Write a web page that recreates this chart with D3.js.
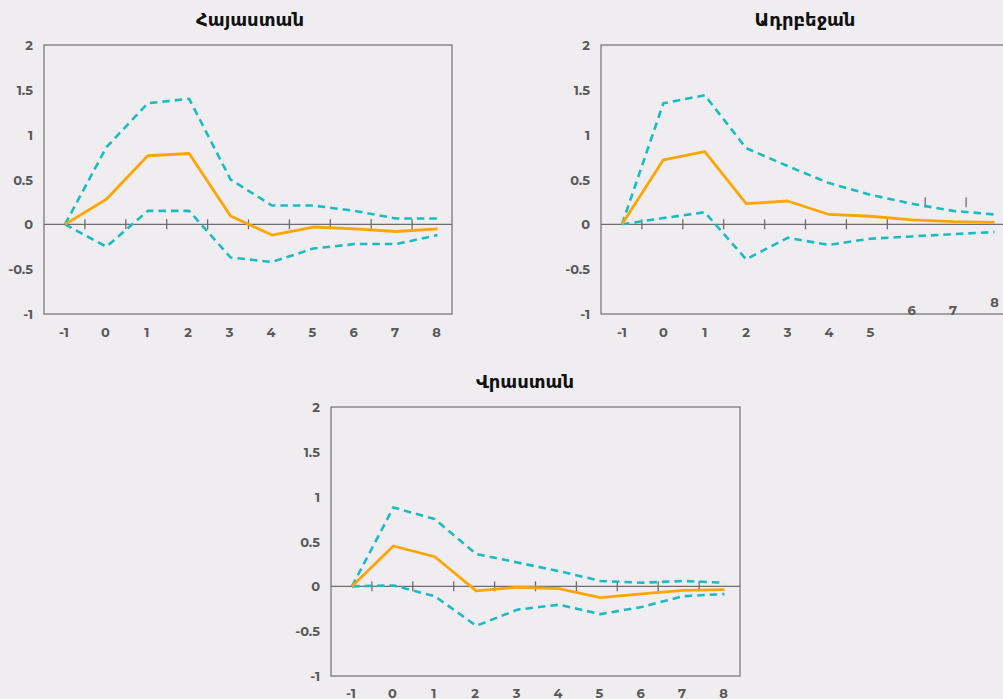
<!DOCTYPE html>
<html>
<head>
<meta charset="utf-8">
<script src="https://cdn.jsdelivr.net/npm/d3@7"></script>
<style>
  html, body { margin: 0; padding: 0; background: #efedf0; }
  svg { display: block; }
</style>
</head>
<body>
<svg id="chart" width="1003" height="699"></svg>
<script>
// ---- data ----
const periods = ["-1", "0", "1", "2", "3", "4", "5", "6", "7", "8"];
const yTicks = [-1, -0.5, 0, 0.5, 1, 1.5, 2];
const titles = ["Հայաստան", "Ադրբեջան", "Վրաստան"];

const armMid = [0, 0.28, 0.765, 0.79, 0.093, -0.12, -0.03, -0.05, -0.08, -0.05];
const armUp  = [0, 0.86, 1.35, 1.40, 0.50, 0.21, 0.21, 0.15, 0.065, 0.065];
const armLo  = [0, -0.25, 0.15, 0.15, -0.37, -0.42, -0.27, -0.22, -0.22, -0.12];

const azeMid = [0, 0.72, 0.81, 0.23, 0.26, 0.11, 0.09, 0.05, 0.03, 0.022];
const azeUp  = [0, 1.35, 1.44, 0.85, 0.65, 0.46, 0.33, 0.23, 0.15, 0.11];
const azeLo  = [0, 0.07, 0.135, -0.39, -0.15, -0.23, -0.16, -0.135, -0.11, -0.086];

const geoMid = [0, 0.45, 0.33, -0.05, -0.01, -0.026, -0.127, -0.085, -0.045, -0.037];
const geoUp  = [0, 0.88, 0.75, 0.36, 0.265, 0.17, 0.06, 0.04, 0.06, 0.04];
const geoLo  = [0, 0.01, -0.11, -0.44, -0.26, -0.205, -0.31, -0.23, -0.11, -0.086];

// ---- layout ----
const panels = [
  { title: titles[0], mid: armMid, up: armUp, lo: armLo, x0: 44, x1: 452, y0: 45, y1: 314, tx: 250, ty: 19, lab: 18, glitch: false },
  { title: titles[1], mid: azeMid, up: azeUp, lo: azeLo, x0: 601, x1: 1013, y0: 45, y1: 314, tx: 805, ty: 19, lab: 18, glitch: true },
  { title: titles[2], mid: geoMid, up: geoUp, lo: geoLo, x0: 331, x1: 740, y0: 407, y1: 676, tx: 525, ty: 381, lab: 16.5, glitch: false }
];

const FONT = "'Montserrat','Noto Sans','DejaVu Sans',sans-serif";
const svg = d3.select("#chart");
svg.append("rect").attr("width", 1003).attr("height", 699).attr("fill", "#efedf0");

panels.forEach(p => {
  const g = svg.append("g");
  const xb = d3.scaleBand().domain(periods).range([p.x0, p.x0 + 409]);
  const x = d3.scalePoint().domain(periods).range([p.x0 + 21, p.x0 + 393.5]);
  const y = d3.scaleLinear().domain([-1, 2]).range([p.y1, p.y0]);

  // title
  g.append("text").attr("x", p.tx).attr("y", p.ty).attr("text-anchor", "middle")
    .attr("dominant-baseline", "central")
    .attr("font-family", "'DejaVu Sans',sans-serif").attr("font-weight", "bold")
    .attr("font-size", 18).attr("fill", "#111").text(p.title);

  // plot frame
  g.append("rect").attr("x", p.x0).attr("y", p.y0)
    .attr("width", p.x1 - p.x0).attr("height", p.y1 - p.y0)
    .attr("fill", "none").attr("stroke", "#7a7a7a").attr("stroke-width", 1.3);

  // y labels
  g.selectAll(".yl").data(yTicks).enter().append("text")
    .attr("x", p.x0 - 11).attr("y", d => y(d)).attr("text-anchor", "end")
    .attr("dominant-baseline", "central")
    .attr("font-family", FONT).attr("font-weight", "bold").attr("font-size", 13)
    .attr("fill", "#595959").text(d => d);

  // zero line
  g.append("line").attr("x1", p.x0).attr("x2", p.x1).attr("y1", y(0)).attr("y2", y(0))
    .attr("stroke", "#6e6e6e").attr("stroke-width", 1.3);

  // tick marks at band boundaries
  const bounds = periods.slice(1).map(d => xb(d));
  bounds.forEach((bx, i) => {
    let yc = y(0), dx = 0;
    if (p.glitch && i >= 7) { yc = y(0) - 22; dx = -3; }
    g.append("line").attr("x1", bx + dx).attr("x2", bx + dx)
      .attr("y1", yc - 5).attr("y2", yc + 5)
      .attr("stroke", "#6e6e6e").attr("stroke-width", 1.3);
  });

  // x labels
  periods.forEach((d, i) => {
    let ly = p.y1 + p.lab;
    if (p.glitch && (i === 7 || i === 8)) ly = p.y1 - 4;
    if (p.glitch && i === 9) ly = p.y1 - 12;
    g.append("text").attr("x", x(d) - (p.glitch ? 0 : 1)).attr("y", ly).attr("text-anchor", "middle")
      .attr("dominant-baseline", "central")
      .attr("font-family", FONT).attr("font-weight", "bold").attr("font-size", 13)
      .attr("fill", "#595959").text(d);
  });

  const line = d3.line().x((v, i) => x(periods[i])).y(v => y(v));

  [p.up, p.lo].forEach(arr => {
    g.append("path").attr("d", line(arr)).attr("fill", "none")
      .attr("stroke", "#19bcc0").attr("stroke-width", 2.6)
      .attr("stroke-dasharray", "7.5,5").attr("stroke-linejoin", "round");
  });
  g.append("path").attr("d", line(p.mid)).attr("fill", "none")
    .attr("stroke", "#ffa500").attr("stroke-width", 2.8).attr("stroke-linejoin", "round");
});
</script>
</body>
</html>
